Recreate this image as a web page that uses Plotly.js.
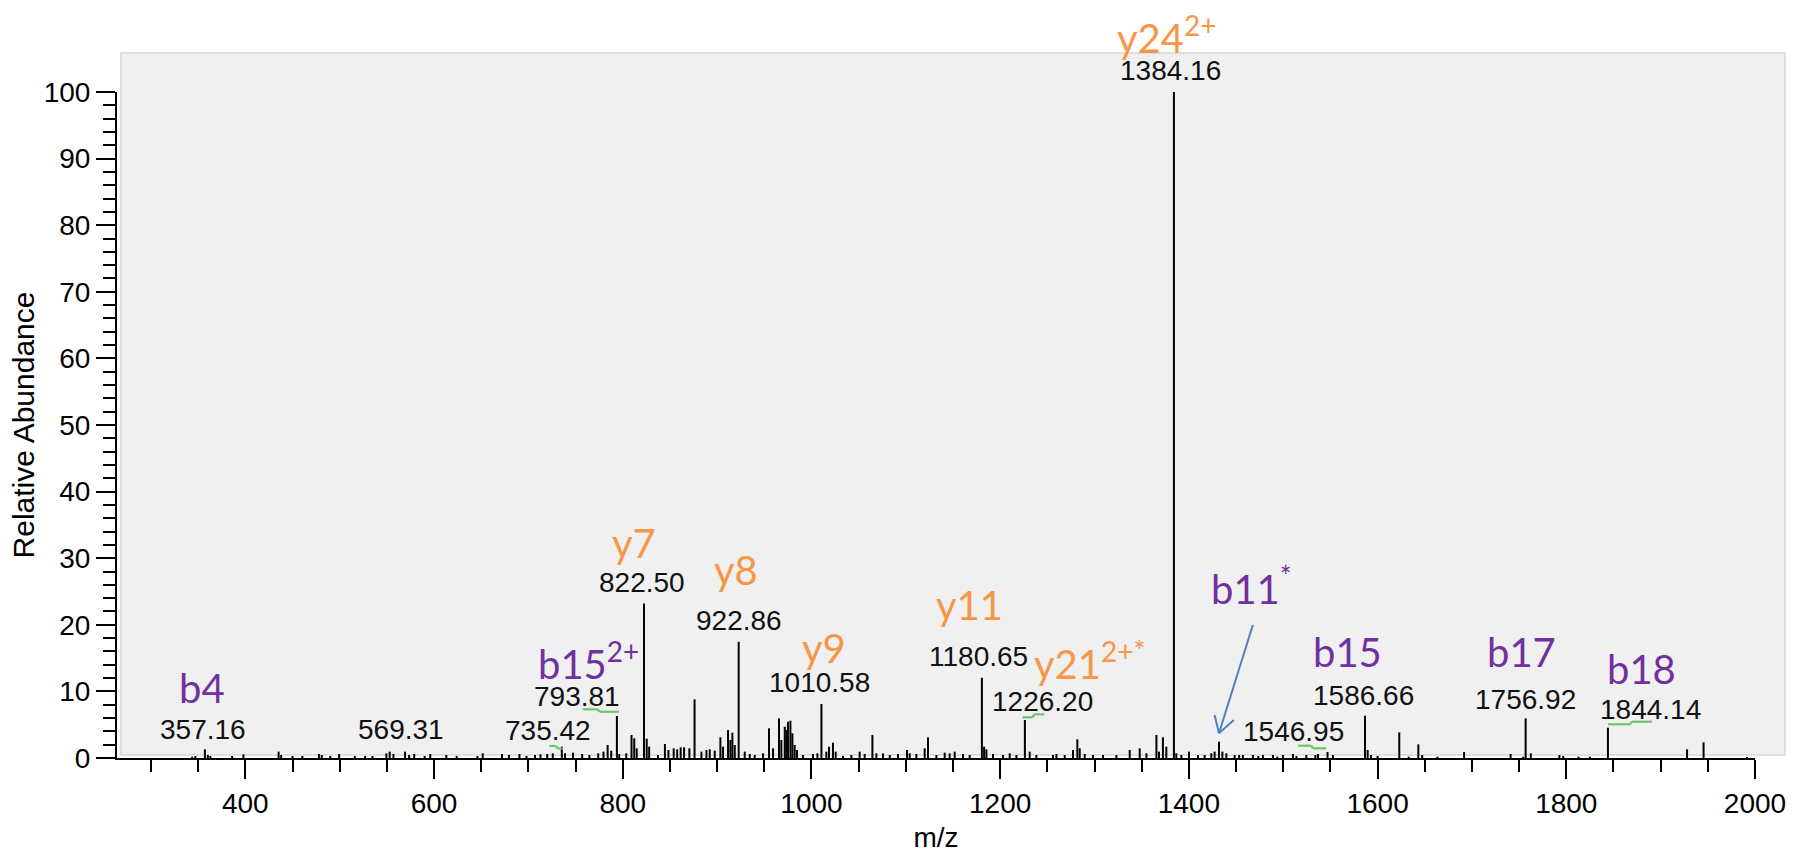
<!DOCTYPE html>
<html>
<head>
<meta charset="utf-8">
<script src="https://cdn.plot.ly/plotly-3.0.1.min.js"></script>
<style>
  html, body { margin: 0; padding: 0; background: #ffffff; }
  #chart { width: 1796px; height: 853px; }
</style>
</head>
<body>
<div id="chart"></div>
<script>
// Centroided MS/MS peaks: m/z and relative abundance (%)
const peakMz = [
  343.6, 347, 357.16, 360.3, 363, 386, 398, 435.3, 438, 450, 460.5, 478, 481, 490, 499.4,
  516, 527, 534.7, 549.5, 553, 557, 569.31, 573.6, 579, 590, 596, 613, 624, 646, 651.6,
  672, 679.4, 690.5, 698, 707, 712.8, 720, 725.8, 735.42, 738.8, 747.3, 757, 764.7, 774,
  779.6, 784, 787.8, 793.81, 796.3, 803.7, 809.3, 812.2, 814.8, 822.50, 825.4, 828, 837.3,
  844.7, 848.4, 854, 857.7, 861.4, 865, 870.6, 876.1, 883.4, 888.7, 892.2, 897.5, 903.5,
  906.3, 911.6, 914.1, 916.2, 918.7, 922.86, 929.3, 934.6, 939.9, 948.7, 955, 959.3, 965.6,
  968.1, 971.7, 973.4, 975.1, 977.7, 979.8, 982.2, 984.7, 991, 1001.6, 1006.3, 1010.58,
  1015.8, 1018.6, 1022.8, 1025.7, 1033.4, 1042.3, 1051.1, 1056.4, 1064.6, 1068.8, 1075.8,
  1083, 1091.7, 1101.3, 1104.1, 1111.2, 1120, 1123.5, 1132.4, 1141.2, 1146.5, 1151.8,
  1160.6, 1167.7, 1180.65, 1183, 1185.4, 1192.4, 1203, 1210.1, 1217.2, 1226.20, 1231.3,
  1238.4, 1256, 1259.6, 1268.4, 1277.2, 1281.8, 1284.3, 1289.6, 1298.4, 1309, 1323.2,
  1337.3, 1347.9, 1355, 1365.6, 1368.3, 1372.5, 1376.1, 1384.16, 1386.7, 1392, 1400.1,
  1409.6, 1416.7, 1423.8, 1427.3, 1431.9, 1435.5, 1439.7, 1448.5, 1453.3, 1457.3, 1467.9,
  1473.5, 1478.5, 1489.1, 1493.7, 1499.7, 1510.3, 1514, 1524.5, 1534, 1536.8, 1546.95,
  1552.7, 1586.66, 1589.5, 1593, 1600, 1623, 1633, 1643.2, 1647.3, 1663.4, 1691.7, 1741,
  1754.3, 1756.92, 1762.4, 1792.7, 1796.8, 1813, 1825, 1844.14, 1928, 1945.5, 1991.5
];
const peakAbundance = [
  0.2, 0.3, 1.3, 0.45, 0.3, 0.3, 0.55, 0.95, 0.45, 0.3, 0.3, 0.6, 0.45, 0.3, 0.6,
  0.3, 0.3, 0.3, 0.7, 0.95, 0.6, 0.95, 0.45, 0.6, 0.3, 0.6, 0.45, 0.3, 0.3, 0.7,
  0.6, 0.45, 0.6, 0.3, 0.45, 0.55, 0.6, 0.7, 1.7, 0.7, 0.8, 0.6, 0.45, 0.7,
  0.95, 1.95, 1.1, 6.3, 0.6, 0.7, 3.45, 2.95, 1.45, 23.2, 2.9, 1.7, 0.45,
  2.1, 1.2, 1.45, 1.3, 1.6, 1.6, 1.45, 8.8, 0.95, 1.2, 1.3, 1.1, 3.1,
  1.7, 4.2, 2.7, 3.8, 1.95, 17.45, 0.95, 0.6, 0.45, 0.7, 4.45, 1.45, 5.95,
  2.7, 4.7, 4.2, 5.45, 5.6, 3.7, 1.95, 1.2, 0.45, 0.6, 0.7, 8.1,
  0.95, 1.7, 2.3, 0.95, 0.3, 0.45, 0.95, 0.6, 3.45, 0.7, 0.7,
  0.45, 0.6, 1.2, 0.7, 0.6, 1.45, 3.1, 0.45, 0.8, 0.7, 0.95,
  0.6, 0.45, 12.05, 1.7, 1.3, 0.6, 0.45, 0.7, 0.45, 5.7, 0.95,
  0.45, 0.45, 0.6, 0.45, 1.2, 2.8, 1.45, 0.6, 0.45, 0.45, 0.45,
  1.2, 1.45, 0.7, 3.45, 0.95, 3.1, 1.7, 100, 0.7, 0.45, 0.95,
  0.45, 0.45, 0.7, 0.95, 2.45, 0.95, 0.7, 0.45, 0.45, 0.45, 0.45,
  0.3, 0.45, 0.45, 0.2, 0.45, 0.6, 0.3, 0.45, 0.45, 0.6, 0.9,
  0.45, 6.35, 1.2, 0.45, 0.3, 3.85, 0.2, 2.05, 0.45, 0.2, 0.9, 0.6,
  0.2, 5.95, 0.7, 0.45, 0.3, 0.2, 0.2, 4.55, 1.3, 2.35, 0.15
];

// Peaks annotated with their m/z value
const valueLabelMz = [357.16, 569.31, 735.42, 793.81, 822.50, 922.86, 1010.58, 1180.65,
                      1226.20, 1384.16, 1546.95, 1586.66, 1756.92, 1844.14];

// Fragment ion assignments
const ionText = ['b4', 'b15<sup>2+</sup>', 'y7', 'y8', 'y9', 'y11', 'y21<sup>2+*</sup>',
                 'y24<sup>2+</sup>', 'b11<sup>*</sup>', 'b15', 'b17', 'b18'];
const ionPeakMz = [357.16, 793.81, 822.50, 922.86, 1010.58, 1180.65, 1226.20,
                   1384.16, 1431.9, 1586.66, 1756.92, 1844.14];
const ionSeries = ['b', 'b', 'y', 'y', 'y', 'y', 'y', 'y', 'b', 'b', 'b', 'b'];

// Axis tick values
const xTickVals = [400, 600, 800, 1000, 1200, 1400, 1600, 1800, 2000];
const yTickVals = [0, 10, 20, 30, 40, 50, 60, 70, 80, 90, 100];

// ---- placement (pixel offsets from each peak tip: [right, up]) ----
const valueLabelShift = [[-2, 20], [-4, 22], [-14, 16], [-40, 20], [-2, 21], [0, 21], [-2, 21.5],
                         [-3, 21.7], [18, 19], [-3.5, 21.6], [-34, 21], [-1.5, 20], [0, 19.3], [43, 18.7]];
const ionShift = [[-2.6, 61.8], [-28, 55], [-9.6, 60.5], [-2.3, 72], [3, 56], [-12, 73], [65, 59],
                  [-7, 57], [33, 155.5], [-17, 63.5], [-4, 66], [34, 59]];
// small green tick marks near some peak tips (polyline points, px from tip)
const tipMarks = [
  [735.42,  [[-12.4, 0.7], [-6, 0.7], [-4, -1.8], [0.9, -1.8]]],
  [793.81,  [[-34, 6.7], [-19.7, 6.7], [-17, 4.3], [2.1, 4.3]]],
  [1226.20, [[-2.3, 2.7], [7.7, 2.7], [9.4, 5.7], [19.4, 5.7]]],
  [1546.95, [[-29.6, 6.3], [-16.2, 6.3], [-14.6, 3.7], [-1.2, 3.7]]],
  [1844.14, [[0, 3.4], [22, 3.4], [24, 6], [44, 6]]]
];
// arrow pointing at the b11* peak: shaft and arrowhead arms (px from tip)
const arrowTarget = 1431.9;
const arrowSegments = [
  [[0, 8.4], [33.9, 116.7]],
  [[0, 8.4], [-4.4, 26.7]],
  [[0, 8.4], [14.9, 21.7]]
];

const ionColors = { b: '#7030A0', y: '#F79646' };
const labelFont = 'Liberation Sans, Arial, sans-serif';
const ionFont = 'Lato, Open Sans, sans-serif';

function abundanceAt(mz) {
  let best = 0;
  peakMz.forEach((m, i) => { if (Math.abs(m - mz) < Math.abs(peakMz[best] - mz)) best = i; });
  return peakAbundance[best];
}

// stick spectrum: one vertical segment per peak
const stickX = [], stickY = [];
peakMz.forEach((m, i) => {
  stickX.push(m, m, null);
  stickY.push(0, peakAbundance[i], null);
});

const spectrum = {
  type: 'scatter',
  mode: 'lines',
  x: stickX,
  y: stickY,
  line: { color: '#000000', width: 2 },
  hoverinfo: 'skip',
  showlegend: false
};

const annotations = [];
valueLabelMz.forEach((mz, i) => {
  annotations.push({
    x: mz, y: abundanceAt(mz), xref: 'x', yref: 'y',
    text: mz.toFixed(2), showarrow: false,
    xanchor: 'center', yanchor: 'middle',
    xshift: valueLabelShift[i][0], yshift: valueLabelShift[i][1],
    font: { family: labelFont, size: 28, color: '#111111' }
  });
});
ionText.forEach((t, i) => {
  annotations.push({
    x: ionPeakMz[i], y: abundanceAt(ionPeakMz[i]), xref: 'x', yref: 'y',
    text: t, showarrow: false,
    xanchor: 'center', yanchor: 'middle',
    xshift: ionShift[i][0], yshift: ionShift[i][1],
    font: { family: ionFont, size: 40, color: ionColors[ionSeries[i]] }
  });
});

const shapes = [];
// plot panel background
shapes.push({
  type: 'rect', xref: 'paper', yref: 'paper',
  x0: 0.0024, x1: 1.0183, y0: 0.0045, y1: 1.0586,
  fillcolor: '#f0f0f0', line: { color: '#d6d6d6', width: 1.5 }, layer: 'below'
});
function pixelSegment(mz, p0, p1, color, width) {
  return {
    type: 'line', xref: 'x', yref: 'y',
    xsizemode: 'pixel', ysizemode: 'pixel',
    xanchor: mz, yanchor: abundanceAt(mz),
    x0: p0[0], x1: p1[0], y0: p0[1], y1: p1[1],
    line: { color: color, width: width }
  };
}
tipMarks.forEach(([mz, pts]) => {
  for (let k = 0; k < pts.length - 1; k++) shapes.push(pixelSegment(mz, pts[k], pts[k + 1], '#6cc46c', 2.2));
});
arrowSegments.forEach(seg => shapes.push(pixelSegment(arrowTarget, seg[0], seg[1], '#4F81BD', 2)));

const axisFont = { family: labelFont, size: 28, color: '#000000' };

const layout = {
  width: 1796, height: 853,
  margin: { l: 117, r: 41, t: 92, b: 95 },
  paper_bgcolor: '#ffffff',
  plot_bgcolor: 'rgba(0,0,0,0)',
  showlegend: false,
  xaxis: {
    range: [264, 2000],
    tickmode: 'array', tickvals: xTickVals, ticktext: xTickVals.map(String),
    ticks: 'outside', ticklen: 19, tickwidth: 2, tickcolor: '#000',
    minor: { dtick: 50, tick0: 0, ticks: 'outside', ticklen: 12, tickwidth: 2, tickcolor: '#000' },
    showline: true, linecolor: '#000', linewidth: 2,
    showgrid: false, zeroline: false,
    tickfont: axisFont,
    title: { text: 'm/z', font: axisFont, standoff: 18 }
  },
  yaxis: {
    range: [0, 100],
    tickmode: 'array', tickvals: yTickVals, ticktext: yTickVals.map(String),
    ticks: 'outside', ticklen: 19, tickwidth: 2, tickcolor: '#000',
    minor: { dtick: 2, tick0: 0, ticks: 'outside', ticklen: 12, tickwidth: 2, tickcolor: '#000' },
    showline: true, linecolor: '#000', linewidth: 2,
    showgrid: false, zeroline: false,
    tickfont: axisFont,
    title: { text: 'Relative Abundance', font: { family: labelFont, size: 30, color: '#000000' }, standoff: 0 }
  },
  annotations: annotations,
  shapes: shapes
};

Plotly.newPlot('chart', [spectrum], layout, { displayModeBar: false, staticPlot: true });
</script>
</body>
</html>
